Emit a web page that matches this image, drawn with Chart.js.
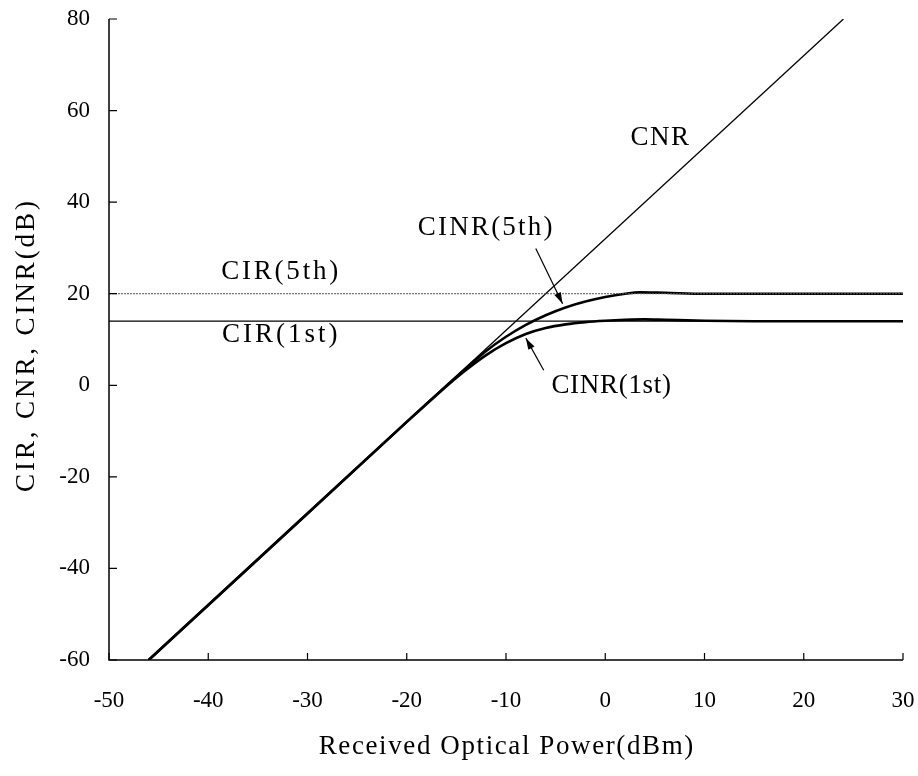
<!DOCTYPE html>
<html>
<head>
<meta charset="utf-8">
<script src="https://cdn.jsdelivr.net/npm/chart.js@4"></script>
<style>
html,body{margin:0;padding:0;background:#fff;}
#wrap{width:918px;height:776px;}
</style>
</head>
<body>
<div id="wrap"><canvas id="c" width="918" height="776"></canvas></div>
<script>
// ---- data ----
const xTicks = [-50, -40, -30, -20, -10, 0, 10, 20, 30];
const yTicks = [-60, -40, -20, 0, 20, 40, 60, 80];

const cnrX = [-46, 24];
const cnrY = [-60, 80];

const cir5X = [-50, 30];
const cir5Y = [20, 20];
const cir1X = [-50, 30];
const cir1Y = [14, 14];

const cinr5X = [-46, -30, -20, -16, -14, -12, -10, -8, -6, -4, -2, 0, 2, 3.5, 6, 10, 15, 30];
const cinr5Y = [-60, -28, -8, -0.1, 3.8, 7.5, 10.6, 13.2, 15.3, 17.0, 18.3, 19.3, 20.0, 20.3, 20.2, 20.0, 20.0, 20.0];

const cinr1X = [-46, -30, -20, -16, -14, -12, -10, -8, -6, -4, -2, 0, 2, 4, 6, 10, 15, 30];
const cinr1Y = [-60, -28, -8, -0.2, 3.4, 6.6, 9.2, 11.2, 12.5, 13.3, 13.8, 14.1, 14.3, 14.4, 14.3, 14.1, 14.0, 14.0];

const xTitle = 'Received Optical Power(dBm)';
const yTitle = 'CIR, CNR, CINR(dB)';

const labels = [
  {text: 'CNR', x: 5.5, y: 54, sp: 1.5},
  {text: 'CIR(5th)', x: -32.8, y: 24.7, sp: 2.8},
  {text: 'CIR(1st)', x: -32.8, y: 10.9, sp: 3},
  {text: 'CINR(5th)', x: -12.1, y: 34.3, sp: 2.2},
  {text: 'CINR(1st)', x: 0.6, y: -0.2, sp: 0.7}
];
const arrows = [
  {from: [-7.0, 29.9], to: [-4.3, 17.8]},
  {from: [-6.2, 3.3], to: [-8.0, 10.3]}
];

function pts(xs, ys){ return xs.map((x,i)=>({x:x, y:ys[i]})); }

const FONT = "'Liberation Serif', 'DejaVu Serif', serif";

function spacedText(ctx, text, x, y, sp){
  // centered text with letter spacing
  ctx.letterSpacing = sp + 'px';
  const w = ctx.measureText(text).width - sp;
  ctx.textAlign = 'left';
  ctx.fillText(text, x - w/2, y);
  ctx.letterSpacing = '0px';
}

const decor = {
  id: 'decor',
  afterDatasetsDraw(chart){
    const ctx = chart.ctx, xs = chart.scales.x, ys = chart.scales.y;
    const a = chart.chartArea;
    ctx.save();
    // axes
    ctx.strokeStyle = '#000'; ctx.lineWidth = 1.5;
    ctx.beginPath();
    ctx.moveTo(a.left, a.top); ctx.lineTo(a.left, a.bottom); ctx.lineTo(a.right, a.bottom);
    ctx.stroke();
    // inward ticks
    ctx.lineWidth = 1.2;
    ctx.beginPath();
    xTicks.forEach(v=>{ const px = xs.getPixelForValue(v); ctx.moveTo(px, a.bottom); ctx.lineTo(px, a.bottom-7); });
    yTicks.forEach(v=>{ const py = ys.getPixelForValue(v); ctx.moveTo(a.left, py); ctx.lineTo(a.left+8, py); });
    ctx.stroke();
    // in-plot labels
    ctx.fillStyle = '#000';
    ctx.font = '27px ' + FONT;
    ctx.textBaseline = 'middle';
    labels.forEach(l=>{ spacedText(ctx, l.text, xs.getPixelForValue(l.x), ys.getPixelForValue(l.y), l.sp); });
    // arrows
    arrows.forEach(ar=>{
      const x1 = xs.getPixelForValue(ar.from[0]), y1 = ys.getPixelForValue(ar.from[1]);
      const x2 = xs.getPixelForValue(ar.to[0]), y2 = ys.getPixelForValue(ar.to[1]);
      ctx.lineWidth = 1.2;
      ctx.beginPath(); ctx.moveTo(x1,y1); ctx.lineTo(x2,y2); ctx.stroke();
      const ang = Math.atan2(y2-y1, x2-x1), L = 12, W = 0.3;
      ctx.beginPath();
      ctx.moveTo(x2,y2);
      ctx.lineTo(x2 - L*Math.cos(ang-W), y2 - L*Math.sin(ang-W));
      ctx.lineTo(x2 - L*Math.cos(ang+W), y2 - L*Math.sin(ang+W));
      ctx.closePath(); ctx.fill();
    });
    // axis titles
    ctx.font = '27px ' + FONT;
    spacedText(ctx, xTitle, (a.left + a.right)/2, 747, 1.6);
    ctx.save();
    ctx.translate(27, (a.top + a.bottom)/2 + 7);
    ctx.rotate(-Math.PI/2);
    spacedText(ctx, yTitle, 0, 0, 2.9);
    ctx.restore();
    ctx.restore();
  }
};

function noPad(s){ s.paddingLeft = 0; s.paddingRight = 0; s.paddingTop = 0; s.paddingBottom = 0; }

new Chart(document.getElementById('c'), {
  type: 'scatter',
  data: {
    datasets: [
      {label:'CIR(5th)', data: pts(cir5X, cir5Y), showLine:true, borderColor:'#555', borderWidth:1, borderDash:[2,1], pointRadius:0},
      {label:'CIR(1st)', data: pts(cir1X, cir1Y), showLine:true, borderColor:'#000', borderWidth:1.2, pointRadius:0},
      {label:'CNR', data: pts(cnrX, cnrY), showLine:true, borderColor:'#000', borderWidth:1.3, pointRadius:0},
      {label:'CINR(5th)', data: pts(cinr5X, cinr5Y), showLine:true, borderColor:'#000', borderWidth:2.6, pointRadius:0, cubicInterpolationMode:'monotone'},
      {label:'CINR(1st)', data: pts(cinr1X, cinr1Y), showLine:true, borderColor:'#000', borderWidth:2.6, pointRadius:0, cubicInterpolationMode:'monotone'}
    ]
  },
  options: {
    responsive: false,
    animation: false,
    layout: {padding: {left: 0, top: 19, right: 15, bottom: 0}},
    plugins: {legend: {display:false}, tooltip: {enabled:false}},
    scales: {
      x: {
        type: 'linear', min: -50, max: 30,
        border: {display:false},
        grid: {display:false, drawTicks:false},
        afterBuildTicks(s){ s.ticks = xTicks.map(v=>({value:v})); },
        afterFit(s){ s.height = 116; noPad(s); },
        ticks: {color:'#000', font:{family:FONT, size:23}, padding: 27, maxRotation:0, autoSkip:false},
        title: {display:false}
      },
      y: {
        type: 'linear', min: -60, max: 80,
        border: {display:false},
        grid: {display:false, drawTicks:false},
        afterBuildTicks(s){ s.ticks = yTicks.map(v=>({value:v})); },
        afterFit(s){ s.width = 109; noPad(s); },
        ticks: {color:'#000', font:{family:FONT, size:23}, padding: 19, autoSkip:false},
        title: {display:false}
      }
    }
  },
  plugins: [decor]
});
</script>
</body>
</html>
